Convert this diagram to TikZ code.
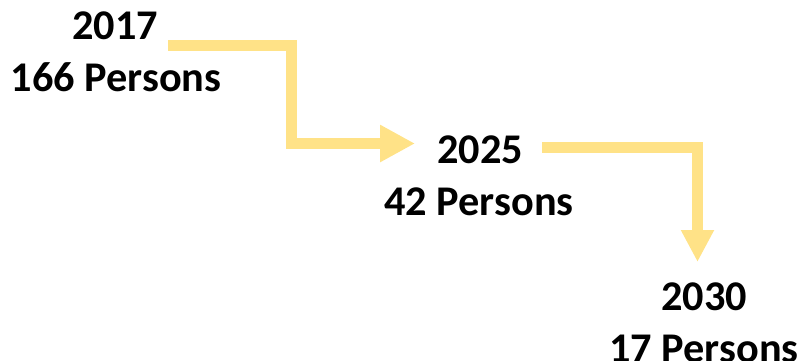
\documentclass[tikz,border=0pt]{standalone}
\usepackage{fontspec}
\setmainfont{Carlito}
\usetikzlibrary{arrows.meta}
\definecolor{bandyellow}{HTML}{FFE287}
\tikzset{
  lbl/.style={font=\bfseries\fontsize{42.3}{52}\selectfont, text=black, inner sep=0pt, anchor=base},
  band/.style={draw=bandyellow, line width=11pt, line join=miter, line cap=butt},
  headA/.style={-{Triangle[length=35pt,width=35pt]}},
  headB/.style={-{Triangle[length=32pt,width=31pt]}}
}
\begin{document}
\begin{tikzpicture}[x=1pt,y=-1pt]
\useasboundingbox (0,0) rectangle (802,360);
\node[lbl] (y2017) at (115,39) {2017};
\node[lbl] (p2017) at (116,91) {166 Persons};
\node[lbl] (y2025) at (480,163) {2025};
\node[lbl] (p2025) at (479,215) {42 Persons};
\node[lbl] (y2030) at (704,310) {2030};
\node[lbl] (p2030) at (704,362) {17 Persons};
\coordinate (s1) at (168,45.5);
\coordinate (c1a) at (291.5,45.5);
\coordinate (c1b) at (291.5,143.5);
\coordinate (t1) at (415,143.5);
\coordinate (s2) at (542,147.5);
\coordinate (c2) at (697.5,147.5);
\coordinate (t2) at (697.5,262);
\draw[band,headA] (s1) -- (c1a) -- (c1b) -- (t1);
\draw[band,headB] (s2) -- (c2) -- (t2);
\end{tikzpicture}
\end{document}
